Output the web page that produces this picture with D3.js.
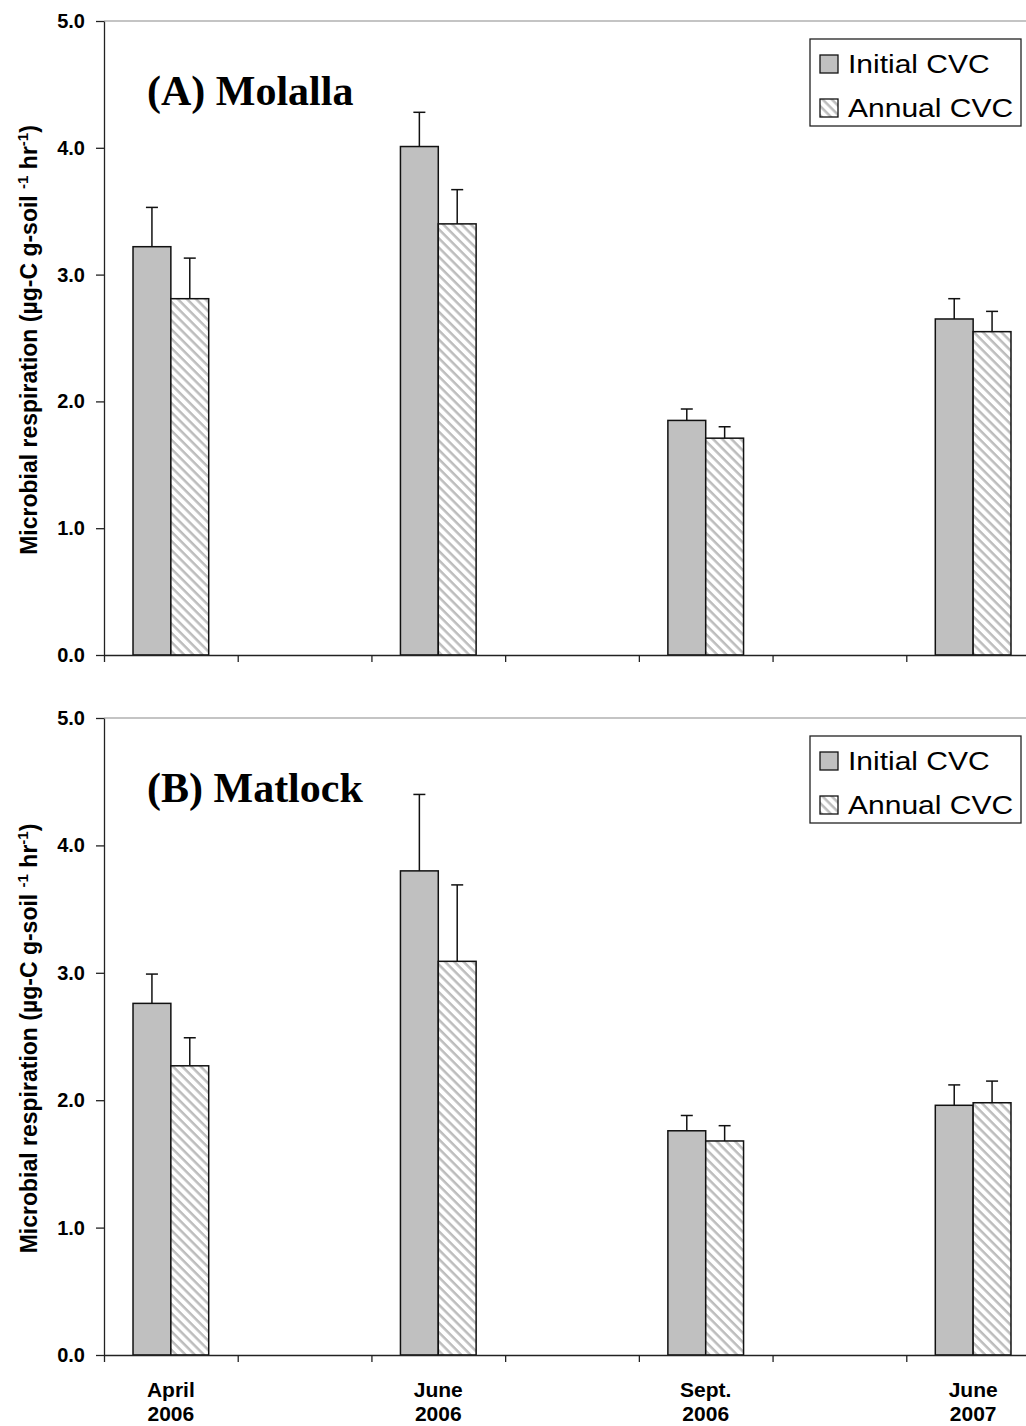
<!DOCTYPE html>
<html>
<head>
<meta charset="utf-8">
<script src="https://cdn.jsdelivr.net/npm/d3@7"></script>
<style>
  body { margin: 0; background: #fff; }
  svg { display: block; }
</style>
</head>
<body>
<svg id="chart" width="1026" height="1426"></svg>
<script>
// data
const dates = [["April", "2006"], ["June", "2006"], ["Sept.", "2006"], ["June", "2007"]];
const series = ["Initial CVC", "Annual CVC"];
const yTicks = [0, 1, 2, 3, 4, 5];

// (A) Molalla
const molallaInitial = [3.22, 4.01, 1.85, 2.65];
const molallaInitialErr = [0.31, 0.27, 0.09, 0.16];
const molallaAnnual = [2.81, 3.40, 1.71, 2.55];
const molallaAnnualErr = [0.32, 0.27, 0.09, 0.16];

// (B) Matlock
const matlockInitial = [2.76, 3.80, 1.76, 1.96];
const matlockInitialErr = [0.23, 0.60, 0.12, 0.16];
const matlockAnnual = [2.27, 3.09, 1.68, 1.98];
const matlockAnnualErr = [0.22, 0.60, 0.12, 0.17];

const svg = d3.select("#chart");
const sans = "'Liberation Sans', Arial, sans-serif";
const serif = "'Liberation Serif', 'Times New Roman', serif";

// hatch pattern for annual bars (lines running down to the right)
const defs = svg.append("defs");
const pat = defs.append("pattern")
    .attr("id", "hatch")
    .attr("patternUnits", "userSpaceOnUse")
    .attr("width", 6.5).attr("height", 6.5)
    .attr("patternTransform", "rotate(45)");
pat.append("rect").attr("width", 6.5).attr("height", 6.5).attr("fill", "#fff");
pat.append("rect").attr("x", 0).attr("y", 0).attr("width", 6.5).attr("height", 2.5).attr("fill", "#bdbdbd");

// 7 slots: date, gap, date, gap, date, gap, date
const x = d3.scaleLinear().domain([0, 7]).range([104, 1040]);
const slotOf = [0, 2, 4, 6];
const barW = x(0.283) - x(0);

function drawPanel(top, bottom, title, initial, initialErr, annual, annualErr, showX) {
  const y = d3.scaleLinear().domain([0, 5]).range([bottom, top]);
  const g = svg.append("g");

  // top frame line
  g.append("line")
    .attr("x1", x(0)).attr("x2", x(7))
    .attr("y1", y(5)).attr("y2", y(5))
    .attr("stroke", "#8a8a8a").attr("stroke-width", 1.2);

  const bars = [
    { vals: initial, err: initialErr, fill: "#c0c0c0", off: -1 },
    { vals: annual, err: annualErr, fill: "url(#hatch)", off: 0 }
  ];

  bars.forEach(function(s) {
    const grp = g.append("g");
    grp.selectAll("rect")
      .data(s.vals)
      .enter()
      .append("rect")
        .attr("x", function(d, i) { return x(slotOf[i] + 0.5) + s.off * barW; })
        .attr("y", function(d) { return y(d); })
        .attr("width", barW)
        .attr("height", function(d) { return y(0) - y(d); })
        .attr("fill", s.fill)
        .attr("stroke", "#111")
        .attr("stroke-width", 1.5);

    // error bars, upward only
    s.vals.forEach(function(d, i) {
      const cx = x(slotOf[i] + 0.5) + s.off * barW + barW / 2;
      grp.append("line")
        .attr("x1", cx).attr("x2", cx)
        .attr("y1", y(d)).attr("y2", y(d + s.err[i]))
        .attr("stroke", "#111").attr("stroke-width", 1.5);
      grp.append("line")
        .attr("x1", cx - 6).attr("x2", cx + 6)
        .attr("y1", y(d + s.err[i])).attr("y2", y(d + s.err[i]))
        .attr("stroke", "#111").attr("stroke-width", 1.5);
    });
  });

  // y axis
  const yAxis = g.append("g")
    .attr("transform", "translate(" + x(0) + ",0)")
    .call(d3.axisLeft(y).tickValues(yTicks).tickFormat(d3.format(".1f")).tickSize(8).tickSizeOuter(0).tickPadding(11));
  yAxis.selectAll("text")
    .attr("font-family", sans).attr("font-size", 20).attr("font-weight", "bold").attr("fill", "#000");
  yAxis.selectAll("line, path").attr("stroke", "#222").attr("stroke-width", 1.3);

  // x axis
  const xAxis = g.append("g")
    .attr("transform", "translate(0," + y(0) + ")")
    .call(d3.axisBottom(x).tickValues(d3.range(0, 8)).tickFormat("").tickSize(7).tickSizeOuter(0));
  xAxis.selectAll("line, path").attr("stroke", "#222").attr("stroke-width", 1.3);

  if (showX) {
    const lab = g.append("g")
      .selectAll("text")
      .data(dates)
      .enter()
      .append("text")
        .attr("x", function(d, i) { return x(slotOf[i] + 0.5); })
        .attr("y", y(0) + 42)
        .attr("text-anchor", "middle")
        .attr("font-family", sans).attr("font-size", 21).attr("font-weight", "bold");
    lab.append("tspan").attr("x", function(d, i) { return x(slotOf[i] + 0.5); }).text(function(d) { return d[0]; });
    lab.append("tspan").attr("x", function(d, i) { return x(slotOf[i] + 0.5); }).attr("dy", 24).text(function(d) { return d[1]; });
  }

  // y axis title
  const yt = g.append("text")
    .attr("transform", "translate(37," + ((top + bottom) / 2 + 2) + ") rotate(-90)")
    .attr("text-anchor", "middle")
    .attr("font-family", sans).attr("font-size", 23).attr("font-weight", "bold");
  yt.append("tspan").text("Microbial respiration (µg-C g-soil ");
  yt.append("tspan").attr("dy", -9).attr("font-size", 15).text("-1");
  yt.append("tspan").attr("dy", 9).text(" hr");
  yt.append("tspan").attr("dy", -9).attr("font-size", 15).text("-1");
  yt.append("tspan").attr("dy", 9).text(")");

  // panel title
  g.append("text")
    .attr("x", 147).attr("y", top + 84)
    .attr("font-family", serif).attr("font-size", 42).attr("font-weight", "bold")
    .text(title);

  // legend
  const lg = g.append("g").attr("transform", "translate(810," + (top + 18) + ")");
  lg.append("rect")
    .attr("width", 211).attr("height", 87)
    .attr("fill", "#fff").attr("stroke", "#222").attr("stroke-width", 1.3);
  series.forEach(function(name, i) {
    lg.append("rect")
      .attr("x", 10).attr("y", 16 + i * 44)
      .attr("width", 18).attr("height", 18)
      .attr("fill", i === 0 ? "#c0c0c0" : "url(#hatch)")
      .attr("stroke", "#111").attr("stroke-width", 1.3);
    const t = lg.append("text")
      .attr("x", 38).attr("y", 34 + i * 44)
      .attr("font-family", sans).attr("font-size", 25)
      .text(name);
    // the source text is a little wide, stretch to match
    t.attr("textLength", t.node().getComputedTextLength() * 1.2)
     .attr("lengthAdjust", "spacingAndGlyphs");
  });
}

drawPanel(21, 655, "(A) Molalla", molallaInitial, molallaInitialErr, molallaAnnual, molallaAnnualErr, false);
drawPanel(718, 1355, "(B) Matlock", matlockInitial, matlockInitialErr, matlockAnnual, matlockAnnualErr, true);
</script>
</body>
</html>
